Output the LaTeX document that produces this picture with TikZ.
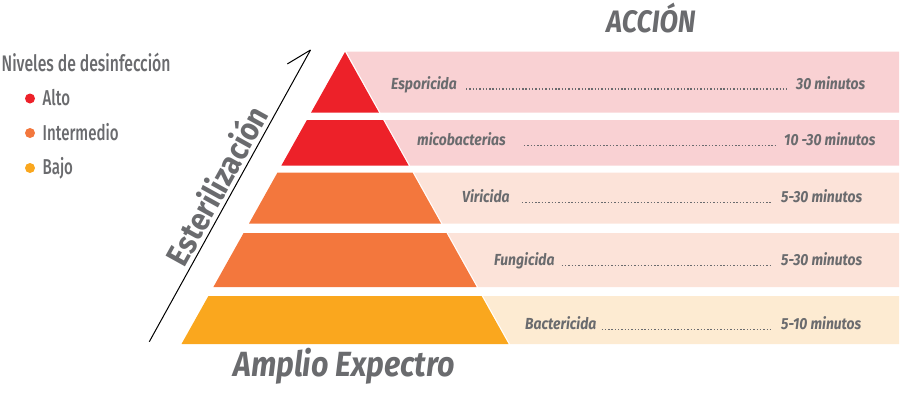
\documentclass[tikz,border=0pt]{standalone}
\usepackage{fontspec}
\setmainfont{Fira Sans}
\newfontfamily\bif{Fira Sans}[FakeStretch=0.87]
\newfontfamily\legf{Fira Sans Medium}[FakeStretch=0.7]
\newfontfamily\estf{Fira Sans}[FakeStretch=0.9]
\definecolor{cred}{HTML}{ED2129}
\definecolor{corange}{HTML}{F3773D}
\definecolor{cyellow}{HTML}{FAA71E}
\definecolor{bred}{HTML}{F9D1D3}
\definecolor{borange}{HTML}{FCE3D9}
\definecolor{byellow}{HTML}{FDEBD2}
\definecolor{txt}{HTML}{6A6B6E}
\tikzset{
  rowlabel/.style={anchor=base west, inner sep=0pt, text=txt, font=\bif\bfseries\itshape\fontsize{16}{16}\selectfont},
  leader/.style={txt, line width=1.4pt, dash pattern=on 1.4pt off 1.9pt},
  legtxt/.style={anchor=base west, inner sep=0pt, text=txt, font=\legf\fontsize{21.5}{21.5}\selectfont},
  legdot/.style={circle, inner sep=0pt, minimum size=10pt},
  big/.style={inner sep=0pt, text=txt, font=\bif\bfseries\itshape\fontsize{35}{35}\selectfont},
}
\begin{document}
\begin{tikzpicture}[x=1pt,y=-1pt]
\useasboundingbox (0,0) rectangle (902,392);
% background bands
\fill[bred] (346.5,51.7) -- (899,51.7) -- (899,112.5) -- (380.4,112.5) -- cycle;
\fill[bred] (384.6,120) -- (899,120) -- (899,165.5) -- (410.1,165.5) -- cycle;
\fill[borange] (414,172.5) -- (899,172.5) -- (899,223.5) -- (442.5,223.5) -- cycle;
\fill[borange] (447.9,233) -- (899,233) -- (899,287) -- (478.1,287) -- cycle;
\fill[byellow] (483.1,296) -- (899,296) -- (899,344) -- (510,344) -- cycle;
% pyramid
\fill[cred] (345,52) -- (378.9,112.5) -- (311.1,112.5) -- cycle;
\fill[cred] (306.9,120) -- (383.1,120) -- (408.6,165.5) -- (281.4,165.5) -- cycle;
\fill[corange] (277.5,172.5) -- (412.5,172.5) -- (441,223.5) -- (249,223.5) -- cycle;
\fill[corange] (243.6,233) -- (446.4,233) -- (476.6,287) -- (213.4,287) -- cycle;
\fill[cyellow] (208.4,296) -- (481.6,296) -- (508.5,344) -- (181.5,344) -- cycle;
% arrow
\coordinate (ab) at (149.3,341.7);
\coordinate (at) at (310.5,50);
\draw[line width=1pt] (ab) -- (at);
\draw[line width=1pt] (at) -- ++(149:27);
\node[inner sep=0pt, text=txt, font=\estf\bfseries\fontsize{32}{32}\selectfont, rotate=61] (est) at (216,185) {Esterilización};
% headings
\node[big, font=\bif\bfseries\itshape\fontsize{31}{31}\selectfont, anchor=base] (acc) at (651,32) {ACCIÓN};
\node[big, anchor=base] (amp) at (344,376) {Amplio Expectro};
% legend
\node[legtxt, font=\legf\fontsize{22.5}{22.5}\selectfont] (legt) at (1.5,71) {Niveles de desinfección};
\node[legdot, fill=cred] (d1) at (30,98.5) {};
\node[legdot, fill=corange] (d2) at (30,133) {};
\node[legdot, fill=cyellow] (d3) at (30,168) {};
\node[legtxt] (l1) at (42.5,105.5) {Alto};
\node[legtxt] (l2) at (42.5,140) {Intermedio};
\node[legtxt] (l3) at (42.5,174.5) {Bajo};
% rows
\node[rowlabel] (r1) at (391,89) {Esporicida};
\node[rowlabel] (t1) at (796,89) {30 minutos};
\node[rowlabel] (r2) at (417,145.5) {micobacterias};
\node[rowlabel] (t2) at (784,145.5) {10 -30 minutos};
\node[rowlabel] (r3) at (462,202.5) {Viricida};
\node[rowlabel] (t3) at (781,202.5) {5-30 minutos};
\node[rowlabel] (r4) at (494,265.5) {Fungicida};
\node[rowlabel] (t4) at (781,265.5) {5-30 minutos};
\node[rowlabel] (r5) at (525,329.5) {Bactericida};
\node[rowlabel] (t5) at (781,329.5) {5-10 minutos};
\draw[leader] ([xshift=9pt]r1.base east) -- ([xshift=-9pt]t1.base west);
\draw[leader] ([xshift=18pt]r2.base east) -- ([xshift=-9pt]t2.base west);
\draw[leader] ([xshift=12pt]r3.base east) -- ([xshift=-9pt]t3.base west);
\draw[leader] ([xshift=7pt]r4.base east) -- ([xshift=-9pt]t4.base west);
\draw[leader] ([xshift=5pt]r5.base east) -- ([xshift=-9pt]t5.base west);
\end{tikzpicture}
\end{document}
